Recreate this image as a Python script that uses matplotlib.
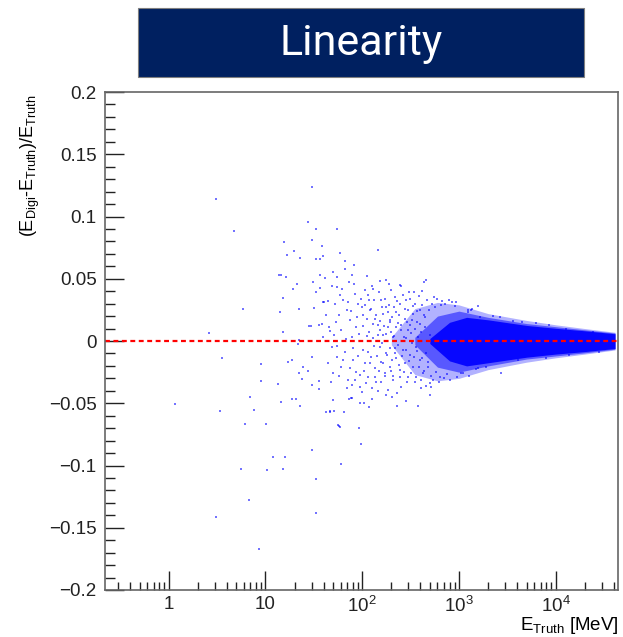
import numpy as np
import matplotlib.pyplot as plt
from matplotlib.patches import Rectangle

plt.rcParams['font.family'] = ['Liberation Sans', 'DejaVu Sans']
plt.rcParams['mathtext.fontset'] = 'custom'
plt.rcParams['mathtext.rm'] = 'Liberation Sans'
plt.rcParams['mathtext.it'] = 'Liberation Sans'

# isolated points at low energy (E_truth [MeV], relative deviation)
sparse_pts = [
    (1.17, -0.0506), (2.63, 0.0067), (3.08, -0.1416), (3.1, 0.114), (3.41, -0.056),
    (3.54, -0.0134), (4.7, 0.088), (5.6, -0.103), (5.9, 0.026), (6.1, -0.0669),
    (6.7, -0.1274), (6.9, -0.0452), (7.7, -0.0554), (8.5, -0.1673), (8.9, -0.0187),
    (9.0, -0.0319), (10.2, -0.0664), (10.4, -0.1039), (11.9, -0.0934), (13.4, -0.0348),
    (13.9, 0.0528), (14.3, 0.023), (14.4, -0.0487), (14.5, 0.0528), (15.1, 0.0343),
    (15.1, -0.1026), (15.2, 0.0072), (15.6, 0.0795), (16.0, -0.0932), (16.4, 0.0514),
    (16.7, 0.069), (17.3, -0.0166), (19.0, -0.015), (19.0, -0.0468), (19.2, 0.0418),
    (19.9, 0.072), (20.7, -0.0468), (21.1, 0.0455), (21.7, -0.0027), (22.5, 0.0255),
    (22.5, 0.0008), (22.5, -0.0254), (22.6, 0.0667), (22.6, -0.0522), (24.0, -0.0303),
    (24.5, -0.0206), (27.7, 0.0958), (27.7, -0.0243), (28.0, 0.0123), (29.6, 0.0123),
    (30.3, 0.1237), (30.3, 0.0814), (30.3, -0.0126), (30.3, -0.0873), (30.6, -0.0356),
    (30.8, 0.047), (31.8, 0.0262), (33.1, 0.0897), (33.1, -0.138), (33.2, 0.0396),
    (33.6, 0.066), (33.6, -0.1106), (35.5, 0.0128), (35.8, -0.0321), (36.1, -0.0388),
    (36.3, 0.053), (36.6, 0.066), (36.8, 0.0428), (38.2, 0.0137), (38.7, 0.0763),
    (39.0, 0.031), (39.0, 0.0035), (39.6, 0.068), (40.0, 0.031), (41.7, 0.0506),
    (42.3, -0.0573), (44.6, 0.032), (45.0, 0.0112), (46.0, -0.056), (47.0, -0.0568),
    (50.1, 0.0557), (50.3, -0.0474), (51.4, -0.056), (54.5, 0.090), (55.0, 0.0517),
    (55.6, -0.0675), (57.0, -0.068), (58.3, -0.0688), (59.6, 0.071), (60.9, -0.0988),
    (65.2, -0.0573), (66.0, 0.0578), (67.0, 0.0645), (73.0, 0.0476), (73.3, -0.0468),
    (76.0, -0.0455), (78.0, 0.053), (78.3, -0.046), (79.0, -0.0353), (83.0, 0.0608),
    (93.0, -0.07), (95.0, -0.0496), (97.0, -0.0825), (105.0, -0.0496), (111.0, 0.052),
    (117.0, -0.0528), (127.0, 0.0444), (127.0, -0.0466), (144.0, 0.0729), (146.0, -0.0402),
    (152.0, 0.048), (175.0, 0.049), (175.0, -0.0436), (189.0, 0.0458), (204.0, -0.0447),
    (229.0, -0.052), (244.0, 0.0452), (252.0, 0.0442), (282.0, -0.0484), (304.0, 0.0394),
    (340.0, 0.0396), (380.0, -0.052), (414.0, 0.0402), (435.0, 0.0474), (457.0, 0.0488),
    (498.0, -0.0434), (520.0, -0.0367), (556.0, 0.0353), (620.0, -0.0327), (670.0, 0.0321),
    (750.0, -0.0263), (850.0, 0.0316), (941.0, 0.0316), (1100.0, -0.026), (1230.0, 0.0249),
    (1350.0, 0.0257), (1560.0, 0.0281), (1570.0, -0.022),
]

# medium density region, 40 MeV - 1 GeV
mid_pts = [
    (49, 0.044), (54.5, 0.0436), (59, 0.037), (52, 0.030), (63, 0.033), (69, 0.025),
    (57, 0.021), (75, 0.017), (84, 0.038), (91, 0.030), (98, 0.034), (87, 0.0115),
    (102, 0.021), (107, 0.041), (118, 0.033), (120, 0.025), (130, 0.042), (135, 0.018),
    (146, 0.0129), (152, 0.0088), (158, 0.033), (165, 0.022), (177, 0.0276), (183, 0.0115),
    (193, 0.017), (200, 0.0075), (217, 0.0356), (225, 0.0235), (233, 0.0142), (245, 0.030),
    (254, 0.0088), (275, 0.018), (286, 0.033), (298, 0.025), (310, 0.0129), (322, 0.0062),
    (335, 0.022), (349, 0.030), (369, 0.0155), (394, 0.025), (410, 0.0075), (443, 0.0195),
    (51, 0.0048), (78, 0.0035), (111, 0.004), (128, 0.0022), (165, 0.0048), (208, 0.0035),
    (286, 0.0022), (378, 0.0035), (499, 0.0048),
    (49, -0.0045), (54.5, -0.0126), (50, -0.026), (61, -0.0206), (66, -0.0086), (72, -0.0313),
    (81, -0.0153), (87, -0.0246), (95, -0.0367), (102, -0.0072), (107, -0.0179), (115, -0.0287),
    (124, -0.0126), (135, -0.0219), (140, -0.0327), (152, -0.0045), (158, -0.0166), (171, -0.026),
    (177, -0.0099), (193, -0.0206), (208, -0.0313), (217, -0.0059), (225, -0.0139), (245, -0.0233),
    (254, -0.0367), (264, -0.0072), (275, -0.0179), (298, -0.0287), (310, -0.0112), (335, -0.0206),
    (349, -0.0327), (362, -0.0045), (394, -0.0153), (426, -0.026), (460, -0.0099), (480, -0.0206),
    (410, -0.038), (499, -0.034),
    (42, 0.021), (44, -0.018), (47, 0.008), (48, -0.033), (53, 0.015), (55, -0.004),
    (58, -0.028), (60, 0.009), (62, 0.042), (64, -0.015), (68, 0.002), (70, -0.038),
    (71, 0.031), (74, -0.022), (77, 0.024), (80, -0.006), (82, 0.046), (85, -0.031),
    (88, 0.019), (90, -0.012), (93, 0.006), (96, -0.027), (99, 0.027), (100, -0.041),
    (103, 0.012), (105, -0.024), (108, 0.029), (110, -0.034), (112, 0.018), (114, -0.009),
    (116, 0.037), (119, 0.007), (121, -0.018), (123, 0.026), (126, -0.038), (129, 0.014),
    (131, -0.004), (133, 0.033), (137, -0.029), (139, 0.021), (142, -0.012), (144, 0.005),
    (148, 0.039), (150, -0.024), (154, 0.016), (156, -0.033), (160, 0.027), (162, -0.002),
    (166, -0.018), (169, 0.012), (172, 0.034), (174, -0.028), (178, 0.006), (180, -0.011),
    (184, 0.023), (186, -0.039), (190, 0.029), (192, -0.006), (195, 0.015), (197, -0.024),
    (199, 0.041), (202, -0.015), (205, 0.019), (210, -0.028), (212, 0.004), (215, 0.027),
    (219, -0.01), (222, 0.011), (228, -0.042), (231, 0.032), (236, -0.003), (240, -0.019),
    (242, 0.021), (248, -0.029), (250, 0.013), (258, -0.012), (261, 0.037), (268, 0.003),
    (271, -0.025), (279, 0.026), (283, -0.007), (290, 0.015), (293, -0.033), (301, 0.009),
    (306, -0.016), (313, 0.034), (318, -0.026), (326, 0.017), (330, -0.002), (338, 0.028),
    (343, -0.013), (353, 0.01), (357, -0.029), (365, 0.024), (372, -0.008), (382, 0.036),
    (387, -0.021), (398, 0.014), (404, -0.031), (415, 0.029), (420, -0.014), (432, 0.021),
    (438, -0.024), (450, 0.011), (455, -0.036), (470, 0.033), (475, -0.017), (490, 0.025),
    (510, -0.028), (525, 0.03), (540, -0.031), (560, 0.027), (580, -0.025), (600, 0.034),
    (630, -0.029), (650, 0.029), (700, -0.03), (720, 0.03), (780, 0.033), (800, -0.031),
    (900, 0.028), (950, -0.029),
]

# scattered points at the edge of the dense band
edge_pts = [
    (1340, 0.0249), (1240, 0.0235), (1640, 0.0195), (2250, 0.0203), (2630, 0.0195),
    (3600, 0.0163), (4500, 0.0155), (6300, 0.0147), (8600, 0.0126), (12800, 0.0099),
    (24000, 0.0075), (1050, -0.026), (1270, -0.0281), (1500, -0.0225), (1900, -0.0206),
    (2700, -0.026), (4100, -0.0153), (7900, -0.0139), (13800, -0.0112), (28000, -0.0086),
]

# dense band envelopes, outer to inner
outer_E = [200, 350, 600, 1000, 2000, 5000, 10000, 20000, 41000]
outer_hi = [0.003, 0.026, 0.031, 0.029, 0.022, 0.0165, 0.013, 0.010, 0.007]
outer_lo = [-0.003, -0.027, -0.032, -0.030, -0.023, -0.017, -0.0135, -0.0105, -0.0072]

mid_E = [350, 600, 1000, 2000, 5000, 10000, 20000, 41000]
mid_hi = [0.003, 0.020, 0.024, 0.019, 0.014, 0.0115, 0.009, 0.0064]
mid_lo = [-0.003, -0.021, -0.025, -0.020, -0.0145, -0.012, -0.0095, -0.0066]

core_E = [500, 800, 1200, 2000, 5000, 10000, 20000, 41000]
core_hi = [0.002, 0.015, 0.019, 0.017, 0.0125, 0.0102, 0.0082, 0.0058]
core_lo = [-0.002, -0.016, -0.020, -0.0175, -0.013, -0.0105, -0.0085, -0.006]

fig = plt.figure(figsize=(6.23, 6.37), dpi=100)
ax = fig.add_axes([105 / 623, 47 / 637, 513 / 623, 498 / 637])

ax.fill_between(outer_E, outer_hi, outer_lo, color='blue', alpha=0.3, lw=0)
ax.fill_between(mid_E, mid_hi, mid_lo, color='blue', alpha=0.5, lw=0)
ax.fill_between(core_E, core_hi, core_lo, color='blue', alpha=0.92, lw=0)

for pts in (sparse_pts, mid_pts, edge_pts):
    e, d = zip(*pts)
    ax.scatter(e, d, s=2.2, marker='s', color='blue', alpha=0.55, linewidths=0)

ax.axhline(0, color='red', lw=1.6, ls=(0, (2.2, 1.6)))

ax.set_xscale('log')
ax.set_xlim(0.22, 4.4e4)
ax.set_ylim(-0.2, 0.2)
ax.set_yticks(np.arange(-0.2, 0.201, 0.05))
ax.set_yticklabels(['\u22120.2', '\u22120.15', '\u22120.1', '\u22120.05', '0',
                    '0.05', '0.1', '0.15', '0.2'])
ax.set_yticks(np.arange(-0.2, 0.201, 0.01), minor=True)
ax.set_xticks([1, 10, 100, 1000, 10000])
ax.set_xticklabels(['1', '10', '$10^{2}$', '$10^{3}$', '$10^{4}$'])
ax.tick_params(which='both', direction='in', top=False, right=False, labelsize=13.5,
               colors='#222222')
ax.tick_params(which='major', length=14, width=1)
ax.tick_params(which='minor', length=7, width=1)
ax.tick_params(axis='x', which='minor', length=6)
ax.tick_params(axis='x', pad=4)
ax.tick_params(axis='y', pad=6)
for s in ax.spines.values():
    s.set_color('#666666')
    s.set_linewidth(1.2)

fig.text(30 / 623, 1 - 95 / 637, '(E$_{Digi}$-E$_{Truth}$)/E$_{Truth}$', rotation=90,
         ha='center', va='top', fontsize=13)
fig.text(619 / 623, 1 - 630 / 637, 'E$_{Truth}$ [MeV]', ha='right', va='baseline',
         fontsize=13.5)

fig.patches.append(Rectangle((138 / 623, 1 - 77 / 637), 446 / 623, 69 / 637,
                             transform=fig.transFigure, facecolor='#002060', edgecolor='#7f7f7f',
                             lw=0.8))
fig.text(361 / 623, 1 - 44 / 637, 'Linearity', color='white', fontsize=31, ha='center',
         va='center', family=['Roboto', 'DejaVu Sans'])

fig.savefig('out.png', dpi=100)
